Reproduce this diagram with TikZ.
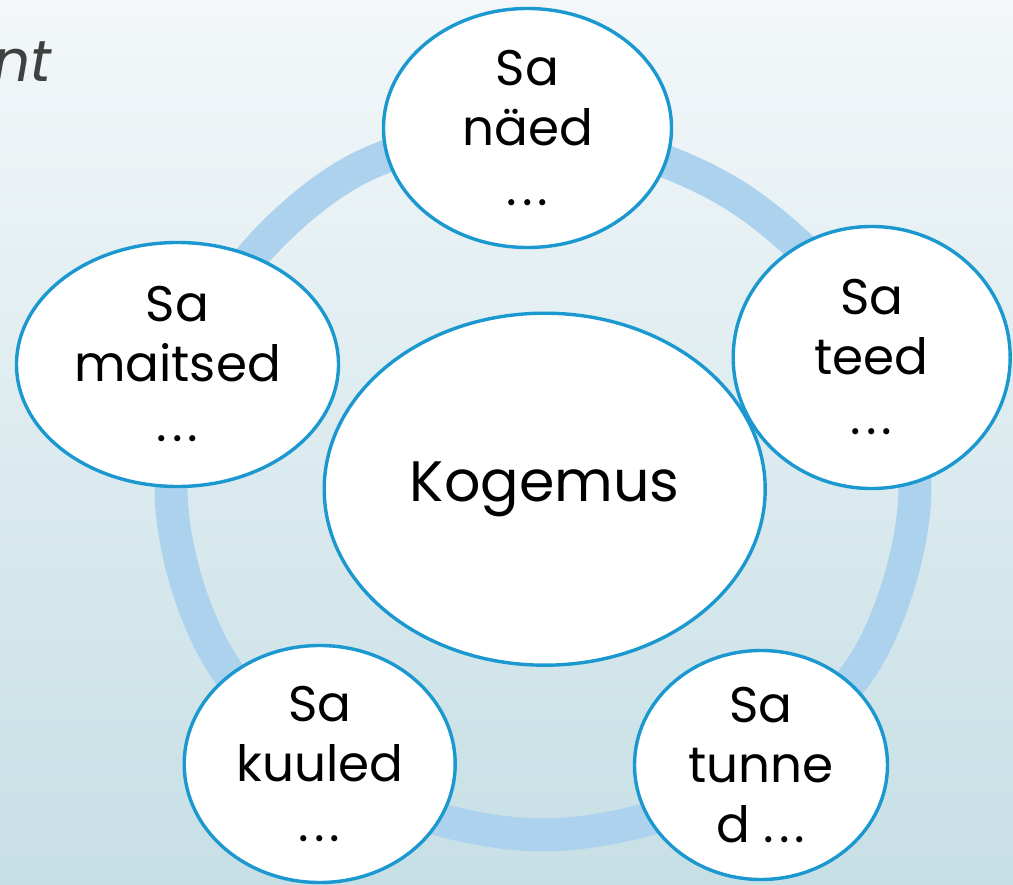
\documentclass[tikz,border=0pt]{standalone}
\usepackage{fontspec}
\setmainfont{Poppins}
\usetikzlibrary{shapes.geometric}
\definecolor{bgtop}{HTML}{F3F7F9}
\definecolor{bgbot}{HTML}{C6DFE5}
\definecolor{ringblue}{HTML}{ADD2EE}
\definecolor{edgeblue}{HTML}{1B98D0}
\definecolor{titlegray}{HTML}{404040}
% spaced ellipsis
\newcommand{\dts}{.\hspace{5pt}.\hspace{5pt}.}
\begin{document}
\begin{tikzpicture}[x=1pt,y=-1pt,
  bubblefill/.style={ellipse, fill=white, inner sep=0pt},
  bubble/.style={ellipse, draw=edgeblue, line width=3.4pt, inner sep=0pt,
    align=center, text=black, font=\fontsize{50}{60}\selectfont},
]
\useasboundingbox (0,0) rectangle (1013,885);
\shade[top color=bgtop, bottom color=bgbot] (0,0) rectangle (1013,885);

% title fragment
\node[font=\fontsize{58}{60}\selectfont\itshape, text=titlegray,
      anchor=base east, inner sep=0pt] (title) at (52,82) {nt};

% cycle ring behind the bubbles
\draw[ringblue, line width=33pt] plot[smooth cycle, tension=0.55] coordinates {
  (915,488) (865.2,661.5) (729,788.5) (543,835) (357,788.5) (220.8,661.5)
  (171,488) (220.8,299.5) (357,169.3) (543,131) (729,191.8) (865.2,323)};

% white fills first, then outlines and text
\node[bubblefill, minimum width=288pt, minimum height=239pt] (seeF)   at (527.5,128)   {};
\node[bubblefill, minimum width=277pt, minimum height=262pt] (doF)    at (871.7,357.5) {};
\node[bubblefill, minimum width=322pt, minimum height=244pt] (tasteF) at (177.5,364.5) {};
\node[bubblefill, minimum width=271pt, minimum height=237pt] (hearF)  at (319.7,764)   {};
\node[bubblefill, minimum width=253pt, minimum height=229pt] (feelF)  at (761,765)     {};
\node[bubblefill, minimum width=441pt, minimum height=352pt] (coreF)  at (544.7,489.2) {};

\node[bubble, minimum width=288pt, minimum height=239pt] (see)   at (527.5,128)   {Sa\\näed\\\dts};
\node[bubble, minimum width=277pt, minimum height=262pt] (do)    at (871.7,357.5) {Sa\\teed\\\dts};
\node[bubble, minimum width=322pt, minimum height=244pt] (taste) at (177.5,364.5) {Sa\\maitsed\\\dts};
\node[bubble, minimum width=271pt, minimum height=237pt] (hear)  at (319.7,764)   {Sa\\kuuled\\\dts};
\node[bubble, minimum width=253pt, minimum height=229pt] (feel)  at (761,765)     {Sa\\tunne\\d \dts};
\node[bubble, minimum width=441pt, minimum height=352pt,
      font=\fontsize{57}{60}\selectfont] (core) at (544.7,489.2) {Kogemus};
\end{tikzpicture}
\end{document}
